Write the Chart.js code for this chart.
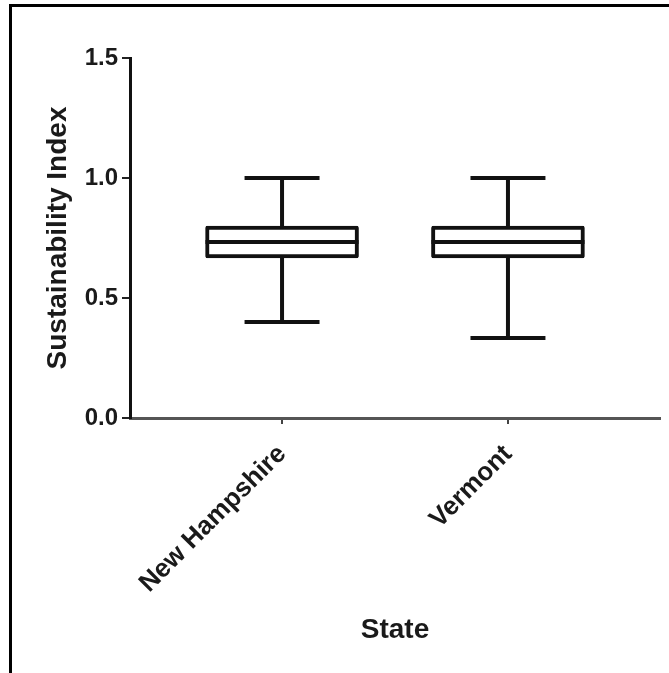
<!DOCTYPE html>
<html>
  <head>
    <title>Sustainability Index by State</title>
    <script src="https://cdn.jsdelivr.net/npm/chart.js"></script>
    <style>
      body { margin: 0; background: #fff; }
      #wrap { position: relative; width: 669px; height: 673px; }
      #frame {
        position: absolute; left: 9px; top: 4px; width: 700px; height: 700px;
        border-top: 3px solid #000; border-left: 3px solid #000; pointer-events: none;
      }
    </style>
  </head>
  <body>
    <div id="wrap">
      <canvas id="boxChart" width="669" height="673"></canvas>
      <div id="frame"></div>
    </div>
    <script>
      // Box plot summary per state
      const states = ["New Hampshire", "Vermont"];
      const minVals = [0.4, 0.333];
      const q1Vals = [0.667, 0.667];
      const medianVals = [0.733, 0.733];
      const q3Vals = [0.8, 0.8];
      const maxVals = [1.0, 1.0];
      const yTicks = [0, 0.5, 1.0, 1.5];

      const font = "'Liberation Sans', Arial, sans-serif";

      // whiskers + median drawn on top of the floating bars
      const whiskerPlugin = {
        id: "whiskers",
        afterDatasetsDraw(chart) {
          const { ctx, scales: { x, y } } = chart;
          const meta = chart.getDatasetMeta(0);
          ctx.save();
          ctx.strokeStyle = "#111";
          ctx.lineCap = "butt";
          states.forEach((_, i) => {
            const cx = x.getPixelForValue(i);
            const half = meta.data[i].width / 2;
            const cap = half * 0.49;
            ctx.lineWidth = 4;
            ctx.beginPath();
            ctx.moveTo(cx, y.getPixelForValue(q3Vals[i]));
            ctx.lineTo(cx, y.getPixelForValue(maxVals[i]));
            ctx.moveTo(cx, y.getPixelForValue(q1Vals[i]));
            ctx.lineTo(cx, y.getPixelForValue(minVals[i]));
            ctx.moveTo(cx - cap, y.getPixelForValue(maxVals[i]));
            ctx.lineTo(cx + cap, y.getPixelForValue(maxVals[i]));
            ctx.moveTo(cx - cap, y.getPixelForValue(minVals[i]));
            ctx.lineTo(cx + cap, y.getPixelForValue(minVals[i]));
            ctx.stroke();
            ctx.beginPath();
            ctx.moveTo(cx - half, y.getPixelForValue(medianVals[i]));
            ctx.lineTo(cx + half, y.getPixelForValue(medianVals[i]));
            ctx.stroke();
          });
          ctx.restore();
        },
      };

      const ctx = document.getElementById("boxChart").getContext("2d");

      new Chart(ctx, {
        type: "bar",
        data: {
          datasets: [
            {
              data: states.map((s, i) => ({ x: i, y: [q1Vals[i], q3Vals[i]] })),
              backgroundColor: "#fff",
              borderColor: "#111",
              borderWidth: 4,
              borderSkipped: false,
              borderRadius: 2,
              barThickness: 153,
            },
          ],
        },
        options: {
          responsive: false,
          animation: false,
          layout: {
            padding: { top: 58, right: 9, left: 0, bottom: 0 },
          },
          plugins: {
            legend: { display: false },
            tooltip: { enabled: false },
          },
          scales: {
            x: {
              type: "linear",
              offset: false,
              min: -0.673,
              max: 1.673,
              afterBuildTicks: (scale) => {
                scale.ticks = states.map((_, i) => ({ value: i }));
              },
              afterFit: (scale) => {
                scale.height = 255;
              },
              ticks: {
                callback: (v) => states[v],
                minRotation: 45,
                maxRotation: 45,
                padding: 15,
                color: "#1a1a1a",
                font: { family: font, size: 26, weight: "bold" },
              },
              grid: {
                offset: false,
                drawOnChartArea: false,
                drawTicks: true,
                tickLength: 6,
                color: "#444",
                lineWidth: 2,
              },
              border: { color: "#555", width: 3 },
              title: {
                display: true,
                text: "State",
                color: "#1a1a1a",
                font: { family: font, size: 28, weight: "bold" },
                padding: { top: 4, bottom: 26 },
              },
            },
            y: {
              min: 0,
              max: 1.5,
              afterBuildTicks: (scale) => {
                scale.ticks = yTicks.map((v) => ({ value: v }));
              },
              afterFit: (scale) => {
                scale.width = 130;
              },
              ticks: {
                callback: (v) => v.toFixed(1),
                padding: 4,
                color: "#1a1a1a",
                font: { family: font, size: 24, weight: "bold" },
              },
              grid: {
                drawOnChartArea: false,
                drawTicks: true,
                tickLength: 8,
                color: "#222",
                lineWidth: 2,
              },
              border: { color: "#111", width: 3 },
              title: {
                display: true,
                text: "Sustainability Index",
                color: "#1a1a1a",
                font: { family: font, size: 28, weight: "bold" },
                padding: { top: 41, bottom: 0 },
              },
            },
          },
        },
        plugins: [whiskerPlugin],
      });
    </script>
  </body>
</html>
